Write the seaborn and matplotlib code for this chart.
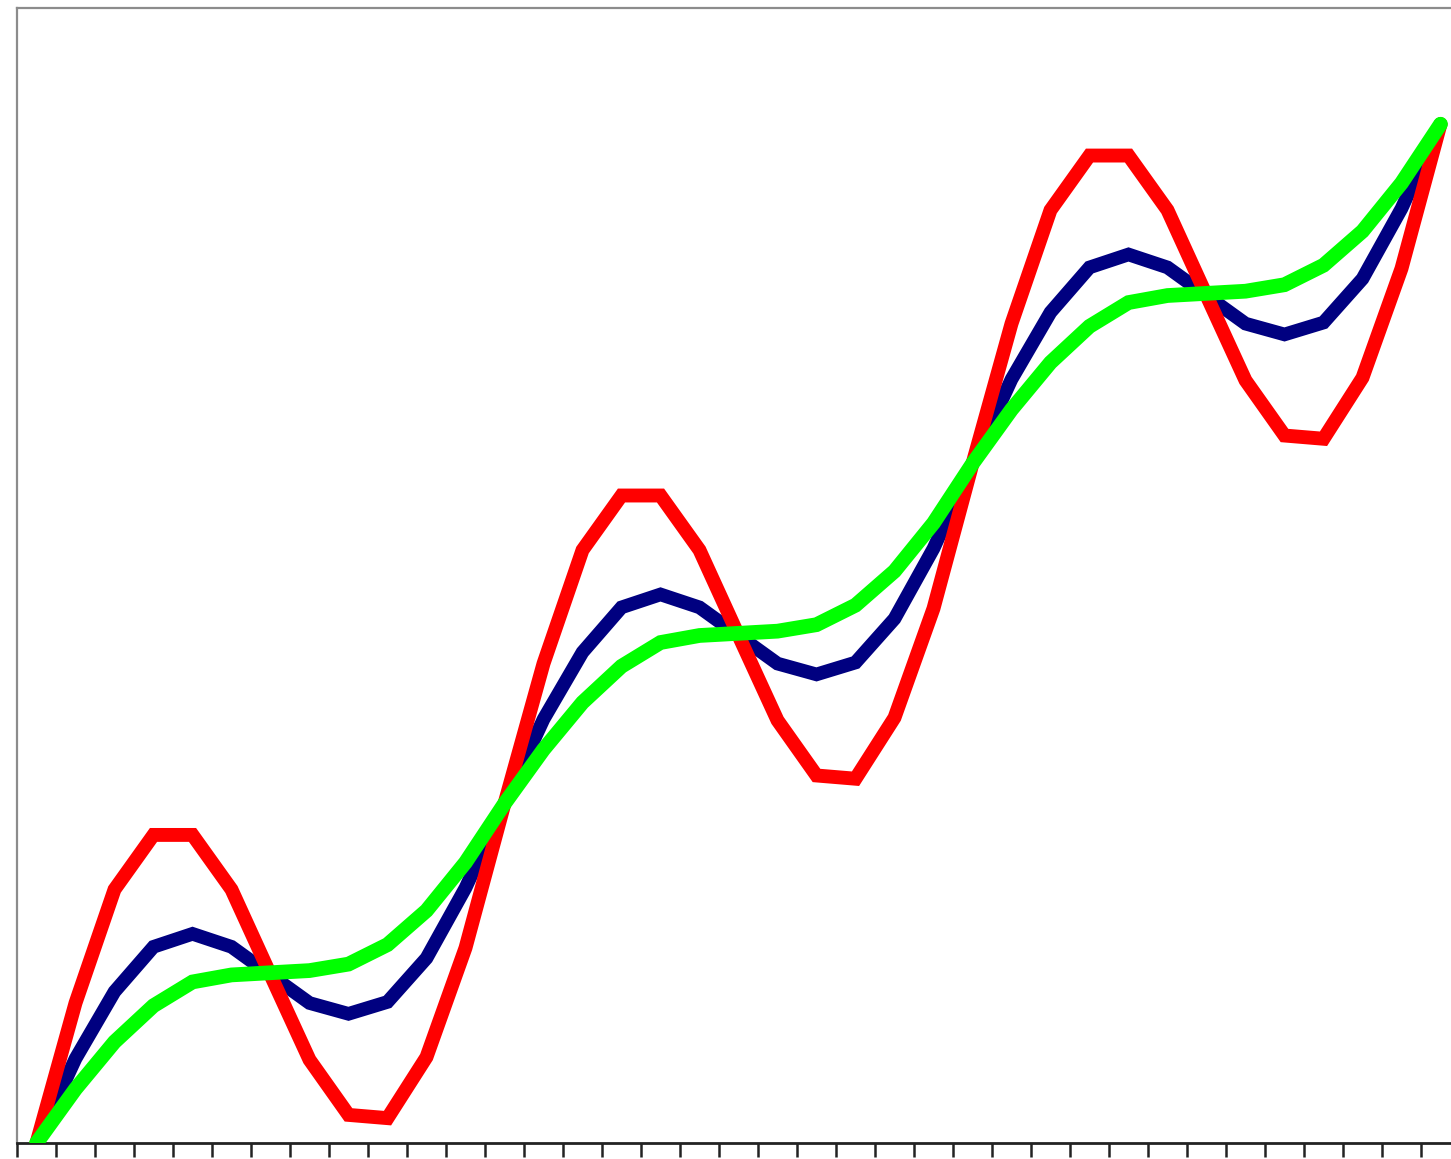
import numpy as np
import pandas as pd
import matplotlib
matplotlib.use("Agg")
import matplotlib.pyplot as plt
import seaborn as sns

# valeurs (37 points, 3 cycles)
red_vals = [0.00, 2.59, 4.69, 5.70, 5.70, 4.69, 3.11, 1.54, 0.52, 0.46, 1.59, 3.61,
            6.28, 8.87, 10.97, 11.98, 11.98, 10.97, 9.39, 7.82, 6.80, 6.74, 7.87, 9.89,
            12.57, 15.16, 17.26, 18.27, 18.27, 17.26, 15.68, 14.11, 13.09, 13.03, 14.16, 16.18,
            18.85]
navy_vals = [0.00, 1.56, 2.80, 3.63, 3.87, 3.63, 3.11, 2.59, 2.39, 2.61, 3.42, 4.72,
             6.28, 7.84, 9.08, 9.91, 10.15, 9.91, 9.39, 8.87, 8.67, 8.89, 9.70, 11.00,
             12.57, 14.13, 15.37, 16.20, 16.44, 16.20, 15.68, 15.16, 14.96, 15.18, 15.99, 17.29,
             18.85]
green_vals = [0.00, 1.00, 1.87, 2.54, 2.98, 3.11, 3.15, 3.19, 3.31, 3.67, 4.30, 5.19,
              6.28, 7.28, 8.15, 8.82, 9.26, 9.39, 9.43, 9.47, 9.59, 9.95, 10.58, 11.47,
              12.57, 13.57, 14.44, 15.11, 15.55, 15.68, 15.72, 15.76, 15.88, 16.24, 16.87, 17.76,
              18.85]
series = ["navy", "red", "green"]
colors = {"red": "#ff0000", "navy": "#000080", "green": "#00ff00"}
widths = {"red": 10.0, "navy": 9.8, "green": 10.6}

x = np.arange(len(red_vals))
df = pd.concat([
    pd.DataFrame({"x": x, "y": navy_vals, "s": "navy"}),
    pd.DataFrame({"x": x, "y": red_vals, "s": "red"}),
    pd.DataFrame({"x": x, "y": green_vals, "s": "green"}),
])

sns.set_style("white")
W, H = 1451, 1159
fig = plt.figure(figsize=(W / 100, H / 100), dpi=100)
ax = fig.add_axes([17 / W, (H - 1143) / H, (1460 - 17) / W, (1143 - 8) / H])

for i, s in enumerate(series):
    sns.lineplot(data=df[df["s"] == s], x="x", y="y", color=colors[s], lw=widths[s],
                 ax=ax, legend=False, zorder=3 + i, solid_capstyle="round",
                 solid_joinstyle="miter")

ax.set_xlim(-0.5, 36.5)
ax.set_ylim(0, 21.0)
ax.set_xticks(np.arange(-0.5, 37, 1))
ax.set_xticklabels([])
ax.set_yticks([])
ax.set_xlabel("")
ax.set_ylabel("")
ax.tick_params(axis="x", direction="out", length=10, width=1.8, color="#222222", bottom=True)

for side in ["left", "top", "right"]:
    ax.spines[side].set_color("#8c8c8c")
    ax.spines[side].set_linewidth(1.6)
ax.spines["bottom"].set_color("#222222")
ax.spines["bottom"].set_linewidth(2.0)
for sp in ax.spines.values():
    sp.set_zorder(1)

fig.savefig("out.png", dpi=100)
